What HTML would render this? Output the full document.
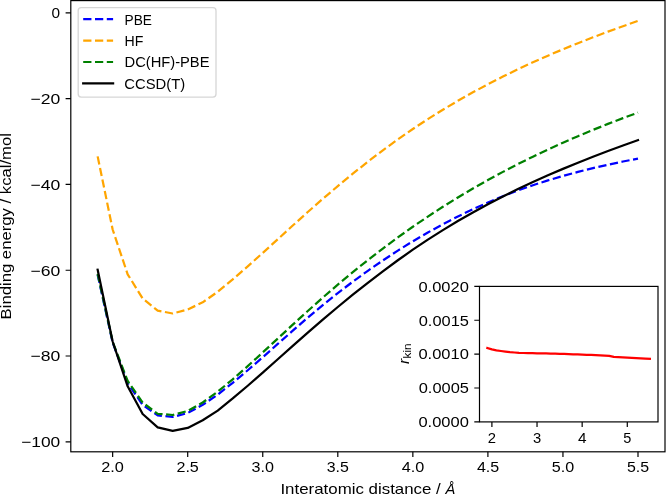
<!DOCTYPE html>
<html><head><meta charset="utf-8"><style>
html,body{margin:0;padding:0;background:#fff;}
svg{display:block;will-change:transform;}
text{font-family:"Liberation Sans",sans-serif;fill:#000;}
</style></head><body>
<svg width="666" height="496" viewBox="0 0 666 496">
<rect x="0" y="0" width="666" height="496" fill="#fff"/>
<defs><clipPath id="cm"><rect x="70.8" y="0.6" width="594.2" height="451.2"/></clipPath><clipPath id="ci"><rect x="479.5" y="286.4" width="178.5" height="135.5"/></clipPath></defs>
<g clip-path="url(#cm)" fill="none" stroke-width="2.23" stroke-linejoin="round">
<path d="M97.64,274.80 L112.65,342.50 L127.66,383.00 L142.67,404.90 L157.68,415.40 L172.69,417.00 L187.70,413.00 L202.71,404.80 L217.72,394.60 L232.73,382.79 L247.74,370.25 L262.75,357.23 L277.76,343.96 L292.77,330.68 L307.78,317.64 L322.79,305.07 L337.80,293.09 L352.81,281.69 L367.82,270.82 L382.83,260.46 L397.84,250.61 L412.85,241.29 L427.86,232.49 L442.87,224.22 L457.88,216.46 L472.89,209.22 L487.90,202.48 L502.91,196.24 L517.92,190.49 L532.93,185.21 L547.94,180.38 L562.95,175.95 L577.96,171.89 L592.97,168.15 L607.98,164.71 L622.99,161.52 L638.00,158.55" stroke="#0000ff" stroke-dasharray="8.24,3.56"/>
<path d="M97.64,156.40 L112.65,229.50 L127.66,274.30 L142.67,298.50 L157.68,310.60 L172.69,313.50 L187.70,309.50 L202.71,302.30 L217.72,291.80 L232.73,279.38 L247.74,266.34 L262.75,252.90 L277.76,239.24 L292.77,225.55 L307.78,212.04 L322.79,198.86 L337.80,186.06 L352.81,173.68 L367.82,161.76 L382.83,150.31 L397.84,139.39 L412.85,128.99 L427.86,119.12 L442.87,109.73 L457.88,100.81 L472.89,92.33 L487.90,84.27 L502.91,76.59 L517.92,69.28 L532.93,62.31 L547.94,55.65 L562.95,49.28 L577.96,43.18 L592.97,37.31 L607.98,31.66 L622.99,26.20 L638.00,20.89" stroke="#ffa500" stroke-dasharray="8.24,3.56"/>
<path d="M97.64,273.70 L112.65,341.80 L127.66,381.00 L142.67,402.60 L157.68,413.80 L172.69,415.00 L187.70,411.00 L202.71,402.50 L217.72,391.70 L232.73,379.30 L247.74,366.11 L262.75,352.44 L277.76,338.56 L292.77,324.69 L307.78,310.99 L322.79,297.61 L337.80,284.65 L352.81,272.16 L367.82,260.13 L382.83,248.55 L397.84,237.43 L412.85,226.77 L427.86,216.56 L442.87,206.80 L457.88,197.46 L472.89,188.54 L487.90,180.02 L502.91,171.87 L517.92,164.08 L532.93,156.63 L547.94,149.51 L562.95,142.69 L577.96,136.16 L592.97,129.91 L607.98,123.91 L622.99,118.14 L638.00,112.60" stroke="#008000" stroke-dasharray="8.24,3.56"/>
<path d="M97.64,269.70 L112.65,341.50 L127.66,386.30 L142.67,414.00 L157.68,427.40 L172.69,430.80 L187.70,427.90 L202.71,420.30 L217.72,410.60 L232.73,398.46 L247.74,385.74 L262.75,372.61 L277.76,359.27 L292.77,345.87 L307.78,332.61 L322.79,319.63 L337.80,306.98 L352.81,294.68 L367.82,282.78 L382.83,271.29 L397.84,260.25 L412.85,249.69 L427.86,239.64 L442.87,230.09 L457.88,221.03 L472.89,212.42 L487.90,204.24 L502.91,196.47 L517.92,189.07 L532.93,182.02 L547.94,175.29 L562.95,168.86 L577.96,162.69 L592.97,156.76 L607.98,151.05 L622.99,145.53 L638.00,140.16" stroke="#000000" stroke-linecap="square"/>
</g>
<rect x="70.8" y="0.6" width="594.2" height="451.2" fill="none" stroke="#000" stroke-width="1.19"/>
<text x="51.64" y="18.20" font-size="14.8" textLength="8.56" lengthAdjust="spacingAndGlyphs" >0</text>
<text x="30.44" y="103.98" font-size="14.8" textLength="29.85" lengthAdjust="spacingAndGlyphs" >−20</text>
<text x="30.44" y="189.76" font-size="14.8" textLength="29.85" lengthAdjust="spacingAndGlyphs" >−40</text>
<text x="30.44" y="275.54" font-size="14.8" textLength="29.85" lengthAdjust="spacingAndGlyphs" >−60</text>
<text x="30.44" y="361.32" font-size="14.8" textLength="29.85" lengthAdjust="spacingAndGlyphs" >−80</text>
<text x="21.16" y="447.10" font-size="14.8" textLength="39.12" lengthAdjust="spacingAndGlyphs" >−100</text>
<text x="101.24" y="472.40" font-size="14.8" textLength="22.63" lengthAdjust="spacingAndGlyphs" >2.0</text>
<text x="176.45" y="472.40" font-size="14.8" textLength="22.36" lengthAdjust="spacingAndGlyphs" >2.5</text>
<text x="251.57" y="472.40" font-size="14.8" textLength="22.38" lengthAdjust="spacingAndGlyphs" >3.0</text>
<text x="326.78" y="472.40" font-size="14.8" textLength="22.10" lengthAdjust="spacingAndGlyphs" >3.5</text>
<text x="401.71" y="472.40" font-size="14.8" textLength="22.54" lengthAdjust="spacingAndGlyphs" >4.0</text>
<text x="476.92" y="472.40" font-size="14.8" textLength="22.27" lengthAdjust="spacingAndGlyphs" >4.5</text>
<text x="551.74" y="472.40" font-size="14.8" textLength="22.40" lengthAdjust="spacingAndGlyphs" >5.0</text>
<text x="626.95" y="472.40" font-size="14.8" textLength="22.12" lengthAdjust="spacingAndGlyphs" >5.5</text>
<path d="M65.60,12.90 H70.80 M65.60,98.68 H70.80 M65.60,184.46 H70.80 M65.60,270.24 H70.80 M65.60,356.02 H70.80 M65.60,441.80 H70.80 M112.65,451.80 V457.00 M187.70,451.80 V457.00 M262.75,451.80 V457.00 M337.80,451.80 V457.00 M412.85,451.80 V457.00 M487.90,451.80 V457.00 M562.95,451.80 V457.00 M638.00,451.80 V457.00" stroke="#000" stroke-width="1.19" fill="none"/>
<text x="280.43" y="494.40" font-size="14.8" textLength="160.37" lengthAdjust="spacingAndGlyphs" >Interatomic distance /</text>
<text x="445.38" y="494.40" font-size="14.8" textLength="9.82" lengthAdjust="spacingAndGlyphs" font-style="italic" >Å</text>
<g transform="translate(10.9,226.1) rotate(-90)"><text x="-93.35" y="0.00" font-size="14.8" textLength="186.44" lengthAdjust="spacingAndGlyphs" >Binding energy / kcal/mol</text></g>
<rect x="78.2" y="7.7" width="137.8" height="89.4" rx="3" ry="3" fill="#fff" fill-opacity="0.8" stroke="#cccccc" stroke-opacity="0.8" stroke-width="1.3"/>
<path d="M83.2,19.2 H113.1" stroke="#0000ff" stroke-width="2.23" stroke-dasharray="8.24,3.56" fill="none"/>
<text x="124.61" y="24.50" font-size="14.8" textLength="27.39" lengthAdjust="spacingAndGlyphs" >PBE</text>
<path d="M83.2,40.6 H113.1" stroke="#ffa500" stroke-width="2.23" stroke-dasharray="8.24,3.56" fill="none"/>
<text x="124.57" y="45.90" font-size="14.8" textLength="18.82" lengthAdjust="spacingAndGlyphs" >HF</text>
<path d="M83.2,62.0 H113.1" stroke="#008000" stroke-width="2.23" stroke-dasharray="8.24,3.56" fill="none"/>
<text x="124.53" y="67.30" font-size="14.8" textLength="84.99" lengthAdjust="spacingAndGlyphs" >DC(HF)-PBE</text>
<path d="M83.2,83.4 H113.1" stroke="#000000" stroke-width="2.23" stroke-linecap="square" fill="none"/>
<text x="124.37" y="88.70" font-size="14.8" textLength="60.80" lengthAdjust="spacingAndGlyphs" >CCSD(T)</text>
<rect x="479.5" y="286.4" width="178.5" height="135.5" fill="#fff"/>
<path d="M487.39,348.00 L491.90,349.40 L496.41,350.30 L500.93,351.00 L505.44,351.60 L509.95,352.11 L514.47,352.50 L518.98,352.80 L523.49,353.00 L528.00,353.12 L532.52,353.22 L537.03,353.31 L541.54,353.39 L546.06,353.47 L550.57,353.57 L555.08,353.68 L559.60,353.79 L564.11,353.92 L568.62,354.10 L573.13,354.29 L577.65,354.46 L582.16,354.61 L586.67,354.77 L591.19,354.95 L595.70,355.14 L600.21,355.35 L604.73,355.57 L609.24,355.80 L613.75,356.90 L618.26,357.18 L622.78,357.44 L627.29,357.70 L631.80,357.95 L636.32,358.19 L640.83,358.42 L645.34,358.65 L649.86,358.87" stroke="#ff0000" stroke-width="2.23" fill="none" clip-path="url(#ci)" stroke-linejoin="round" stroke-linecap="square"/>
<rect x="479.5" y="286.4" width="178.5" height="135.5" fill="none" stroke="#000" stroke-width="1.19"/>
<text x="418.40" y="427.20" font-size="14.8" textLength="50.44" lengthAdjust="spacingAndGlyphs" >0.0000</text>
<text x="418.71" y="393.32" font-size="14.8" textLength="50.18" lengthAdjust="spacingAndGlyphs" >0.0005</text>
<text x="418.40" y="359.45" font-size="14.8" textLength="50.44" lengthAdjust="spacingAndGlyphs" >0.0010</text>
<text x="418.71" y="325.57" font-size="14.8" textLength="50.18" lengthAdjust="spacingAndGlyphs" >0.0015</text>
<text x="418.40" y="291.70" font-size="14.8" textLength="50.44" lengthAdjust="spacingAndGlyphs" >0.0020</text>
<text x="487.77" y="443.00" font-size="14.8" textLength="8.25" lengthAdjust="spacingAndGlyphs" >2</text>
<text x="532.96" y="443.00" font-size="14.8" textLength="8.22" lengthAdjust="spacingAndGlyphs" >3</text>
<text x="577.93" y="443.00" font-size="14.8" textLength="8.56" lengthAdjust="spacingAndGlyphs" >4</text>
<text x="623.27" y="443.00" font-size="14.8" textLength="8.08" lengthAdjust="spacingAndGlyphs" >5</text>
<path d="M474.30,421.90 H479.50 M474.30,388.02 H479.50 M474.30,354.15 H479.50 M474.30,320.27 H479.50 M474.30,286.40 H479.50 M491.90,421.90 V427.10 M537.03,421.90 V427.10 M582.16,421.90 V427.10 M627.29,421.90 V427.10" stroke="#000" stroke-width="1.19" fill="none"/>
<g transform="translate(408.6,354.1) rotate(-90)"><text x="-9.86" y="0.00" font-size="14.8" textLength="5.23" lengthAdjust="spacingAndGlyphs" font-style="italic" >r</text><text x="-4.40" y="2.50" font-size="10.4" textLength="15.17" lengthAdjust="spacingAndGlyphs" >kin</text></g>
</svg>
</body></html>
